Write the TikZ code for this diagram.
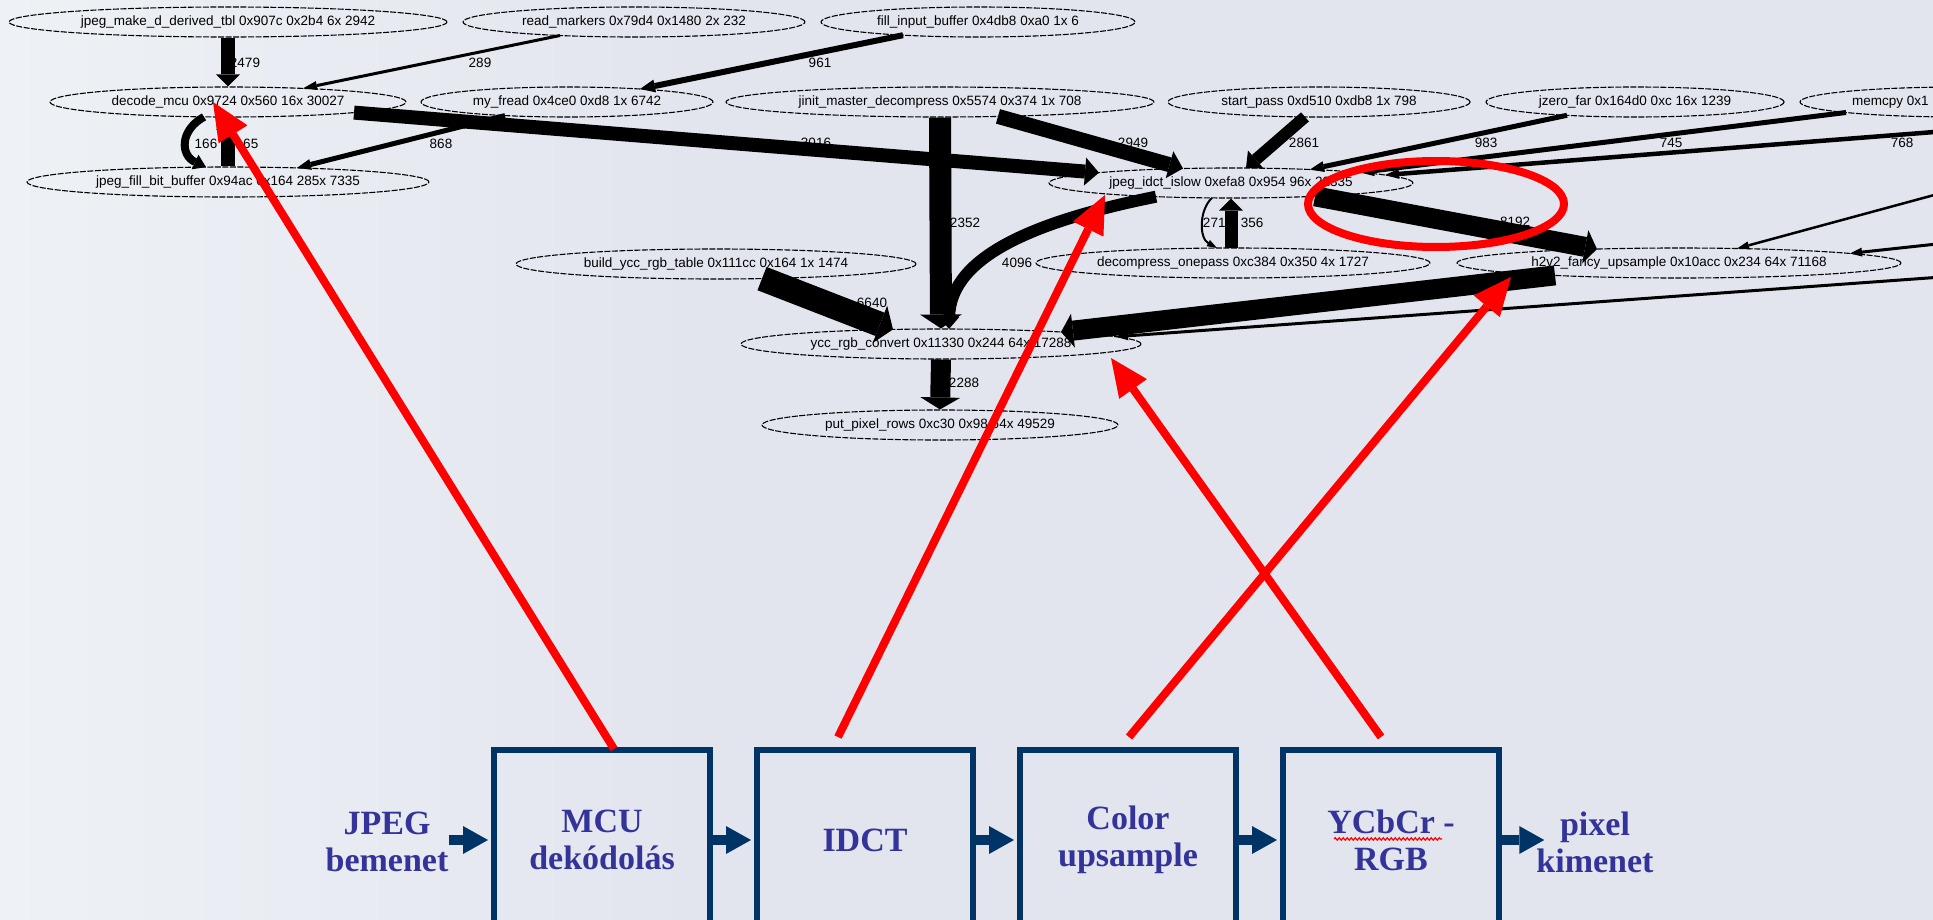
\documentclass[tikz,border=0pt]{standalone}
\usepackage{fontspec}
\setmainfont{Liberation Serif}
\setsansfont{Liberation Sans}
\usetikzlibrary{shapes.geometric,arrows.meta,calc,decorations.pathmorphing}

\definecolor{bgbase}{RGB}{226,229,238}
\definecolor{bglight}{RGB}{238,241,245}
\definecolor{navy}{RGB}{0,51,102}
\definecolor{capblue}{RGB}{51,51,153}
\definecolor{hlred}{RGB}{255,0,0}

\newcommand{\gfont}{\sffamily\fontsize{13.5}{16}\selectfont}
\newcommand{\bfont}{\rmfamily\bfseries\fontsize{34}{37}\selectfont}

\begin{document}
\begin{tikzpicture}[x=1pt,y=-1pt,
  gnode/.style={ellipse, draw=black, line width=1.1pt, dash pattern=on 6pt off 1.5pt,
    inner sep=0pt, minimum height=30pt, font=\gfont},
  gtext/.style={font=\gfont, inner sep=0pt},
  glabel/.style={font=\gfont, inner sep=0pt},
  gedge/.style n args={3}{draw=black, line width=#1pt,
    -{Triangle[length=#2pt, width=#3pt, line width=0pt]}},
  redarrow/.style={draw=hlred, line width=8pt,
    -{Triangle[length=38pt, width=34pt, line width=0pt]}},
  navarrow/.style={draw=navy, line width=10pt,
    -{Triangle[length=25pt, width=28pt, line width=0pt]}},
  pbox/.style={draw=navy, line width=6pt, minimum width=216pt, minimum height=180pt,
    inner sep=0pt, font=\bfont, text=capblue, align=center},
  ptext/.style={font=\bfont, text=capblue, align=center, inner sep=0pt},
]
\useasboundingbox (0,0) rectangle (1933,920);
\clip (0,0) rectangle (1933,920);

% background
\fill[bgbase] (0,0) rectangle (1933,920);
\shade[left color=bglight, right color=bgbase] (0,0) rectangle (700,920);

% ---- call graph nodes ----
\node[gnode, minimum width=438pt] (mk)  at (228,22)  {jpeg\_make\_d\_derived\_tbl 0x907c 0x2b4 6x 2942};
\node[gnode, minimum width=342pt] (rm)  at (634,22)  {read\_markers 0x79d4 0x1480 2x 232};
\node[gnode, minimum width=314pt] (fib) at (978,22)  {fill\_input\_buffer 0x4db8 0xa0 1x 6};

\node[gnode, minimum width=356pt] (dm)  at (228,102) {decode\_mcu 0x9724 0x560 16x 30027};
\node[gnode, minimum width=292pt] (mf)  at (567,102) {my\_fread 0x4ce0 0xd8 1x 6742};
\node[gnode, minimum width=428pt] (jm)  at (940,102) {jinit\_master\_decompress 0x5574 0x374 1x 708};
\node[gnode, minimum width=302pt] (sp)  at (1319,102) {start\_pass 0xd510 0xdb8 1x 798};
\node[gnode, minimum width=298pt] (jz)  at (1635,102) {jzero\_far 0x164d0 0xc 16x 1239};
\node[gnode, minimum width=320pt] (mc)  at (1960,102) {};
\node[gtext, anchor=west] (mct) at (1852,102) {memcpy 0x1};

\node[gnode, minimum width=402pt] (fbb) at (228,182) {jpeg\_fill\_bit\_buffer 0x94ac 0x164 285x 7335};
\node[gnode, minimum width=364pt] (ii)  at (1231,183) {jpeg\_idct\_islow 0xefa8 0x954 96x 22335};

\node[gnode, minimum width=400pt] (byt) at (716,264) {build\_ycc\_rgb\_table 0x111cc 0x164 1x 1474};
\node[gnode, minimum width=394pt] (dop) at (1233,263) {decompress\_onepass 0xc384 0x350 4x 1727};
\node[gnode, minimum width=444pt] (hu)  at (1679,263) {h2v2\_fancy\_upsample 0x10acc 0x234 64x 71168};

\node[gnode, minimum width=400pt] (yc)  at (941,344) {ycc\_rgb\_convert 0x11330 0x244 64x 17288};
\node[gnode, minimum width=356pt] (pp)  at (940,425) {put\_pixel\_rows 0xc30 0x98 64x 49529};

% callers outside the visible area
\coordinate (offa) at (1960,130);
\coordinate (offb) at (1960,188);
\coordinate (offc) at (1960,241.5);
\coordinate (offd) at (1960,275.7);

% ---- edge labels ----
\node[glabel] (l1)  at (245,63)   {2479};
\node[glabel] (l2)  at (480,63)   {289};
\node[glabel] (l3)  at (820,63)   {961};
\node[glabel] (l4)  at (206,144)  {166};
\node[glabel] (l5)  at (247,144)  {165};
\node[glabel] (l6)  at (441,144)  {868};
\node[glabel] (l7)  at (816,143)  {3016};
\node[glabel] (l8)  at (1133,143) {2949};
\node[glabel] (l9)  at (965,223)  {2352};
\node[glabel] (l10) at (1304,143) {2861};
\node[glabel] (l11) at (1486,143) {983};
\node[glabel] (l12) at (1671,143) {745};
\node[glabel] (l13) at (1902,143) {768};
\node[glabel] (l14) at (1017,263) {4096};
\node[glabel] (l15) at (1218,223) {2716};
\node[glabel] (l16) at (1252,223) {356};
\node[glabel] (l17) at (1515,222) {8192};
\node[glabel] (l22) at (872,303)  {6640};
\node[glabel] (l23) at (964,383)  {2288};

% ---- call edges ----
\draw[gedge={14}{12}{24}] (mk.south) -- (dm.north);
\draw[gedge={3}{14}{9}] ($(rm.center)+(-74,13.5)$) -- ($(dm.center)+(75,-13.6)$);
\draw[gedge={6}{15}{13}] ($(fib.center)+(-75,13.2)$) -- ($(mf.center)+(73,-13)$);
\draw[gedge={8}{12}{16}] ($(dm.center)+(-24,14.9)$) .. controls ($(dm.center)+(-48,28)$) and ($(fbb.center)+(-48,-27)$) .. ($(fbb.center)+(-22,-14.9)$);
\draw[gedge={14}{12}{24}] (fbb.north) -- (dm.south);
\draw[gedge={5}{14}{11}] ($(mf.center)+(-62,13.6)$) -- ($(fbb.center)+(69,-14.1)$);
\draw[gedge={14}{14}{28}] ($(dm.center)+(126,10.6)$) -- ($(ii.center)+(-132,-10.3)$);
\draw[gedge={15}{14}{28}] ($(jm.center)+(58,14.4)$) -- ($(ii.center)+(-48,-14.5)$);
\draw[gedge={22}{14}{42}] (jm.south) -- (yc.north);
\draw[gedge={12}{13}{24}] ($(sp.center)+(-14,14.9)$) -- ($(ii.center)+(15,-14.9)$);
\draw[gedge={5}{14}{11}] ($(jz.center)+(-68,13.3)$) -- ($(ii.center)+(79,-13.5)$);
\draw[gedge={5}{14}{11}] ($(mc.center)+(-114,10.5)$) -- ($(ii.center)+(129,-10.6)$);
\draw[gedge={4.5}{14}{10}] (offa) -- ($(ii.center)+(154,-8)$);
\draw[gedge={12}{12}{20}] ($(ii.center)+(-75,13.7)$) .. controls ($(ii.center)+(-191,37)$) and ($(yc.center)+(9,-89)$) .. ($(yc.center)+(8,-15)$);
\draw[gedge={2}{10}{7}] ($(ii.center)+(-19,14.9)$) .. controls ($(ii.center)+(-32,27)$) and ($(dop.center)+(-34,-25)$) .. ($(dop.center)+(-16,-15)$);
\draw[gedge={13}{12}{24}] ($(dop.center)+(-2,-15)$) -- (ii.south);
\draw[gedge={20}{12}{34}] ($(ii.center)+(84,13.3)$) -- ($(hu.center)+(-82,-13.9)$);
\draw[gedge={20}{12}{34}] ($(hu.center)+(-124,12.4)$) -- ($(yc.center)+(120,-12)$);
\draw[gedge={2.5}{12}{8}] (offb) -- ($(hu.center)+(58,-14.5)$);
\draw[gedge={3}{12}{9}] (offc) -- ($(hu.center)+(171,-9.6)$);
\draw[gedge={3}{12}{9}] (offd) -- ($(yc.center)+(175,-7.3)$);
\draw[gedge={25}{14}{40}] ($(byt.center)+(46,14.6)$) -- ($(yc.center)+(-48,-14.6)$);
\draw[gedge={20}{12}{40}] (yc.south) -- (pp.north);

% ---- decoder pipeline ----
\node[ptext] (jp) at (387,842) {JPEG\\bemenet};
\node[pbox] (b1) at (602,840) {MCU\\dekódolás};
\node[pbox] (b2) at (865,840) {IDCT};
\node[pbox] (b3) at (1128,840) {Color\\upsample};
\node[pbox] (b4) at (1391,840) {YCbCr -\\RGB};
\node[ptext] (px) at (1595,842) {pixel\\kimenet};

\draw[navarrow] (jp.east |- b1.west) -- ($(b1.west)+(-3,0)$);
\draw[navarrow] (b1.east) -- ($(b2.west)+(-3,0)$);
\draw[navarrow] (b2.east) -- ($(b3.west)+(-3,0)$);
\draw[navarrow] (b3.east) -- ($(b4.west)+(-3,0)$);
\draw[navarrow] (b4.east) -- ($(b4.east -| px.west)+(8,0)$);

% spell-check squiggle under YCbCr
\draw[hlred, line width=1.2pt, decorate, decoration={snake, segment length=4pt, amplitude=1.2pt}]
  ($(b4.center)+(-57,-1)$) -- ($(b4.center)+(51,-1)$);

% ---- highlights ----
\draw[hlred, line width=8pt] (1436,204) ellipse [x radius=128pt, y radius=43pt];
\draw[redarrow] ($(b1.north)+(12,2)$) -- ($(dm.center)+(-15,0)$);
\draw[redarrow] ($(b2.north)+(-27,-10)$) -- ($(ii.center)+(-126,12)$);
\draw[redarrow] ($(b3.north)+(1,-10)$) -- ($(hu.center)+(-168,14)$);
\draw[redarrow] ($(b4.north)+(-10,-10)$) -- ($(yc.center)+(170,14)$);
\end{tikzpicture}
\end{document}
